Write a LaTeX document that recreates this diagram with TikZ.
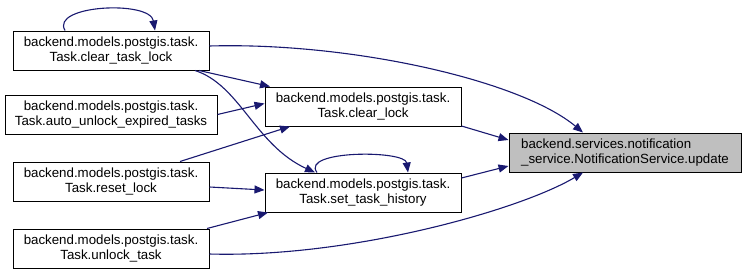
\documentclass[tikz,border=0pt]{standalone}
\usepackage{fontspec}
\setmainfont{Liberation Sans}
\usetikzlibrary{arrows.meta}
\definecolor{edgeblue}{RGB}{25,25,112}
\definecolor{nodegray}{RGB}{191,191,191}

\begin{document}
\begin{tikzpicture}[
                        x=1pt, y=-1pt,
                        >={Triangle[length=10pt,width=8pt]},
                        func/.style={rectangle, draw, line width=1pt, minimum height=39pt, inner sep=0pt, align=center, font=\fontsize{13.3}{15}\selectfont},
                        call/.style={->, draw=edgeblue, line width=1.1pt}
                    ]
                    \useasboundingbox (0,0) rectangle (743,276);
                    % Blocks
                    \node [func, minimum width=196pt] (cleartasklock) at (111,50.5) {backend.models.postgis.task.\\Task.clear\_task\_lock};
                    \node [func, minimum width=212pt] (autounlock) at (111,114.5) {backend.models.postgis.task.\\Task.auto\_unlock\_expired\_tasks};
                    \node [func, minimum width=196pt] (resetlock) at (111,181.5) {backend.models.postgis.task.\\Task.reset\_lock};
                    \node [func, minimum width=196pt] (unlocktask) at (111,248.5) {backend.models.postgis.task.\\Task.unlock\_task};
                    \node [func, minimum width=196pt] (clearlock) at (363,106.5) {backend.models.postgis.task.\\Task.clear\_lock};
                    \node [func, minimum width=196pt] (sethistory) at (363,192.5) {backend.models.postgis.task.\\Task.set\_task\_history};
                    \node [func, minimum width=232pt, fill=nodegray, align=left] (update) at (625,152.5) {backend.services.notification\\\_service.NotificationService.update};

                    % Connections
                    \draw [call] ([xshift=-46pt]cleartasklock.north) .. controls (50,5) and (150,0) .. ([xshift=44pt]cleartasklock.north);
                    \draw [call] ([yshift=4.5pt]cleartasklock.east) .. controls (350,42) and (520,80) .. ([xshift=-42pt]update.north);
                    \draw [call] ([xshift=88pt]cleartasklock.south) -- ([xshift=-93pt]clearlock.north);
                    \draw [call] ([xshift=84pt]cleartasklock.south) .. controls (240,85) and (255,145) .. ([xshift=-48pt]sethistory.north);
                    \draw [call] (autounlock.east) -- ([yshift=3pt]clearlock.west);
                    \draw [call] ([xshift=69pt]resetlock.north) -- ([xshift=-73pt]clearlock.south);
                    \draw [call] ([yshift=-5.5pt]resetlock.east) -- ([yshift=2.5pt]sethistory.west);
                    \draw [call] ([xshift=96pt]unlocktask.north) -- ([xshift=-95pt]sethistory.south);
                    \draw [call] ([yshift=-5.5pt]unlocktask.east) .. controls (350,258) and (520,210) .. ([xshift=-42pt]update.south);
                    \draw [call] ([xshift=-46pt]sethistory.north) .. controls (300,150) and (405,150) .. ([xshift=45pt]sethistory.north);
                    \draw [call] ([yshift=-19.5pt]clearlock.east) -- ([yshift=12.5pt]update.west);
                    \draw [call] ([yshift=14.5pt]sethistory.east) -- ([yshift=-13.5pt]update.west);
                \end{tikzpicture}
\end{document}
